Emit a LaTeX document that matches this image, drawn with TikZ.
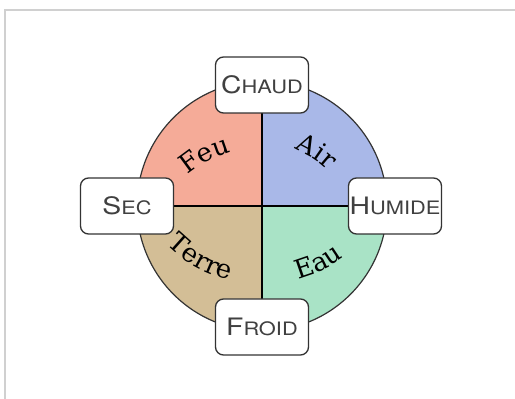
\documentclass[tikz,border=0pt]{standalone}
\usepackage{fontspec}
\newfontfamily\boxfont[FakeStretch=1.18]{TeX Gyre Heros}
\newfontfamily\elemserif{DejaVu Serif}
\usetikzlibrary{decorations.text}
\definecolor{feu}{HTML}{F5AB98}
\definecolor{air}{HTML}{A9B8E8}
\definecolor{eau}{HTML}{A9E3C6}
\definecolor{terre}{HTML}{D3BE96}
\definecolor{framegray}{HTML}{D0D0D0}
\newcommand\fakesc[2]{{\fontsize{24}{25}\selectfont #1}{\fontsize{18.5}{19}\selectfont #2}}
\newcommand\elemfont{\elemserif\fontsize{26}{30}\selectfont}
\begin{document}
\begin{tikzpicture}[x=1pt,y=1pt,
  quality/.style={draw=black!80, line width=1.3pt, fill=white, rounded corners=8pt,
    minimum width=93pt, minimum height=56pt, inner sep=0pt, font=\boxfont, text=black!75},
  divider/.style={draw=black, line width=1.1pt},
  rim/.style={draw=black!80, line width=1.2pt},
  elemtext/.style={font=\elemfont, decorate, decoration={text along path, text align=center, text={|\elemfont|#1}}}]
\useasboundingbox (0,0) rectangle (515,399);
\draw[framegray, line width=2pt] (5,0) -- (5,389) -- (515,389);
\coordinate (O) at (262,193);
\coordinate (ptop) at (262,314);
\coordinate (pbot) at (262,72);
\coordinate (pleft) at (127,193);
\coordinate (pright) at (395,193);
% quadrants
\fill[feu] (O) -- ++(-125pt,0) arc[start angle=180, end angle=90, radius=125pt] -- cycle;
\fill[air] (O) -- ++(0,125pt) arc[start angle=90, end angle=0, radius=125pt] -- cycle;
\fill[eau] (O) -- ++(125pt,0) arc[start angle=0, end angle=-90, radius=125pt] -- cycle;
\fill[terre] (O) -- ++(0,-125pt) arc[start angle=270, end angle=180, radius=125pt] -- cycle;
\draw[rim] (O) circle[radius=125pt];
\draw[divider] (O) -- (ptop);
\draw[divider] (O) -- (pbot);
\draw[divider] (O) -- (pleft);
\draw[divider] (O) -- (pright);
% element labels along arcs
\path[elemtext=Feu] (260.3,140.0) ++(148:111pt) arc[start angle=148, end angle=88, radius=111pt];
\path[elemtext=Air] (251.6,147.4) ++(87:111pt) arc[start angle=87, end angle=27, radius=111pt];
\path[elemtext=Eau] (265.4,244.9) ++(266:129pt) arc[start angle=266, end angle=326, radius=129pt];
\path[elemtext=Terre] (259.1,244.4) ++(207:129pt) arc[start angle=207, end angle=274, radius=129pt];
% quality boxes
\node[quality] (chaud) at (ptop) {\fakesc{C}{HAUD}};
\node[quality] (froid) at (pbot) {\fakesc{F}{ROID}};
\node[quality] (sec) at (pleft) {\fakesc{S}{EC}};
\node[quality] (humide) at (pright) {\fakesc{H}{UMIDE}};
\end{tikzpicture}
\end{document}
